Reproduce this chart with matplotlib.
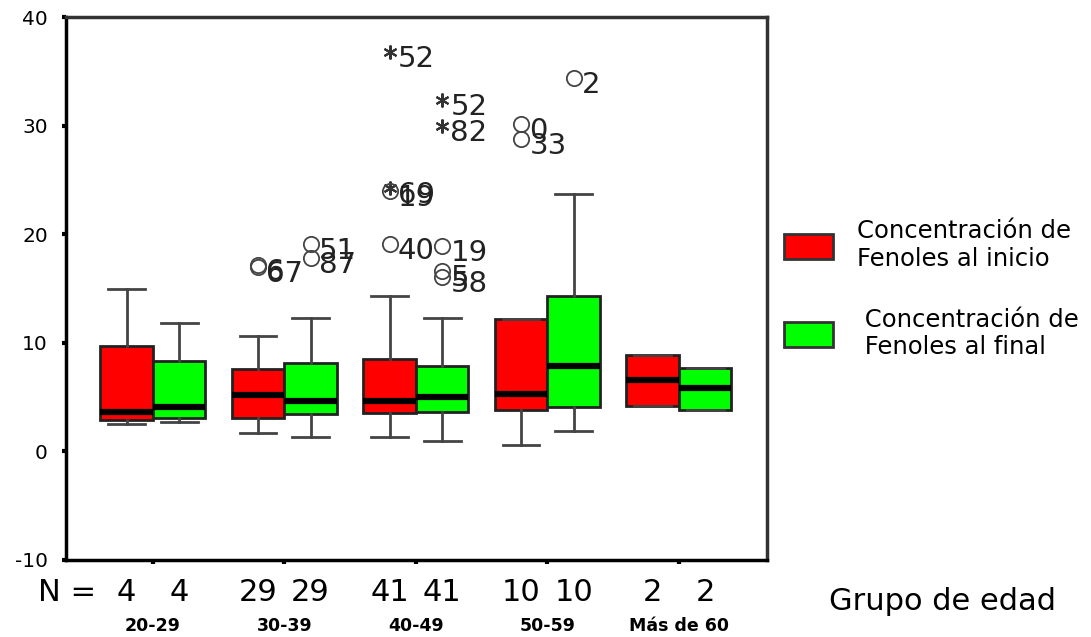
import matplotlib
matplotlib.use("Agg")
import matplotlib.pyplot as plt
from matplotlib.patches import Patch

plt.rcParams["font.family"] = ["DejaVu Sans"]
plt.rcParams["axes.unicode_minus"] = False

groups = ["20-29", "30-39", "40-49", "50-59", "Más de 60"]
n_inicio = [4, 29, 41, 10, 2]
n_final = [4, 29, 41, 10, 2]

# Concentración de fenoles al inicio (rojo)
ini_whislo = [2.5, 1.65, 1.35, 0.55, 4.15]
ini_q1 = [2.85, 3.1, 3.5, 3.85, 4.15]
ini_med = [3.6, 5.15, 4.6, 5.3, 6.6]
ini_q3 = [9.67, 7.55, 8.55, 12.15, 8.9]
ini_whishi = [15.0, 10.6, 14.35, 12.15, 8.9]

# Concentración de fenoles al final (verde)
fin_whislo = [2.7, 1.35, 0.95, 1.85, 3.85]
fin_q1 = [3.1, 3.4, 3.6, 4.05, 3.85]
fin_med = [4.1, 4.6, 5.0, 7.9, 5.8]
fin_q3 = [8.3, 8.1, 7.9, 14.3, 7.7]
fin_whishi = [11.8, 12.3, 12.3, 23.7, 7.7]

# outliers: group index, value, case label, kind ("o" = outlier, "*" = extreme)
ini_out_group = [1, 1, 2, 2, 2, 2, 3, 3]
ini_out_val = [17.2, 17.0, 36.8, 24.3, 24.0, 19.1, 30.2, 28.8]
ini_out_lab = ["6", "67", "52", "69", "19", "40", "0", "33"]
ini_out_kind = ["o", "o", "*", "*", "o", "o", "o", "o"]

fin_out_group = [1, 1, 2, 2, 2, 2, 2, 3]
fin_out_val = [19.1, 17.8, 32.4, 30.0, 18.9, 16.6, 16.1, 34.4]
fin_out_lab = ["51", "87", "52", "82", "19", "5", "58", "2"]
fin_out_kind = ["o", "o", "*", "*", "o", "o", "o", "o"]

red = "#ff0000"
green = "#00ff00"

fig = plt.figure(figsize=(10.91, 6.37), dpi=100)
ax = fig.add_axes([0.0605, 0.121, 0.6425, 0.852])

pos = list(range(1, len(groups) + 1))
off = 0.2


def stats(lo, q1, med, q3, hi):
    return [dict(whislo=a, q1=b, med=c, q3=d, whishi=e, fliers=[])
            for a, b, c, d, e in zip(lo, q1, med, q3, hi)]


common = dict(widths=0.4, patch_artist=True, showfliers=False,
              whiskerprops=dict(color="#444444", lw=2),
              capprops=dict(color="#444444", lw=2),
              medianprops=dict(color="black", lw=4.5),
              manage_ticks=False)

b1 = ax.bxp(stats(ini_whislo, ini_q1, ini_med, ini_q3, ini_whishi),
            positions=[p - off for p in pos], capwidths=0.28,
            boxprops=dict(facecolor=red, edgecolor="#222222", lw=2), **common)
b2 = ax.bxp(stats(fin_whislo, fin_q1, fin_med, fin_q3, fin_whishi),
            positions=[p + off for p in pos], capwidths=0.28,
            boxprops=dict(facecolor=green, edgecolor="#222222", lw=2), **common)


def outliers(gs, vals, labs, kinds, shift):
    for g, v, l, k in zip(gs, vals, labs, kinds):
        x = pos[g] + shift
        if k == "o":
            ax.plot(x, v, "o", mfc="none", mec="#444444", mew=1.3, ms=11)
        else:
            ax.plot(x, v, marker=(6, 2, 0), color="#333333", mew=1.5, ms=10)
        ax.annotate(l, (x, v), xytext=(6, -5), textcoords="offset points",
                    ha="left", va="center", fontsize=21, color="#222222")


outliers(ini_out_group, ini_out_val, ini_out_lab, ini_out_kind, -off)
outliers(fin_out_group, fin_out_val, fin_out_lab, fin_out_kind, off)

ax.set_xlim(0.34, 5.67)
ax.set_ylim(-10, 40)
ax.set_yticks([-10, 0, 10, 20, 30, 40])
ax.tick_params(axis="y", direction="out", length=3, width=3, labelsize=14.5, pad=10)
ax.set_xticks(pos)
ax.set_xticklabels(groups, fontsize=12.5, fontweight="bold")
ax.tick_params(axis="x", direction="out", length=3, width=3, pad=38)

for s in ["left", "bottom"]:
    ax.spines[s].set_linewidth(2.5)
    ax.spines[s].set_color("black")
for s in ["top", "right"]:
    ax.spines[s].set_linewidth(2.5)
    ax.spines[s].set_color("#333333")

# sample sizes
tr = ax.get_xaxis_transform()
ax.text(0.57, -0.06, "N =", transform=tr, ha="right", va="center", fontsize=22, clip_on=False)
for p, a, b in zip(pos, n_inicio, n_final):
    ax.text(p - off, -0.06, str(a), transform=tr, ha="center", va="center", fontsize=22)
    ax.text(p + off, -0.06, str(b), transform=tr, ha="center", va="center", fontsize=22)

fig.text(0.864, 0.055, "Grupo de edad", ha="center", va="center", fontsize=22)

handles = [Patch(facecolor=red, edgecolor="#333333", lw=2),
           Patch(facecolor=green, edgecolor="#333333", lw=2)]
labels = ["Concentración de\nFenoles al inicio", " Concentración de\n Fenoles al final"]
fig.legend(handles, labels, loc="upper left", bbox_to_anchor=(0.699, 0.69),
           frameon=False, fontsize=17.5, handlelength=2.0, handleheight=1.2,
           handletextpad=1.0, labelspacing=1.5)

fig.savefig("out.png", dpi=100)
